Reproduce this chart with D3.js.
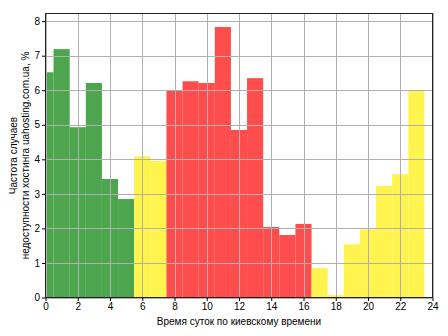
<!DOCTYPE html>
<html><head><meta charset="utf-8">
<script src="https://cdn.jsdelivr.net/npm/d3@7"></script>
<style>body{margin:0;background:#fff}svg{display:block}text{font-family:"Liberation Sans",Arial,sans-serif}</style>
</head><body><svg id="c" width="448" height="336"></svg>
<script>
const hours = d3.range(0, 24);
const values = [6.52,7.19,4.93,6.21,3.43,2.85,4.09,3.95,5.99,6.26,6.21,7.83,4.85,6.35,2.04,1.81,2.13,0.85,0.07,1.54,1.97,3.23,3.57,5.98];
const groups = ["night","night","night","night","night","night","eve","eve","day","day","day","day","day","day","day","day","day","eve","eve","eve","eve","eve","eve","eve"];
const colorMap = {night:"#4da64d", eve:"#fff34d", day:"#ff4d4d"};
const xTicks = d3.range(0, 25, 2);
const yTicks = d3.range(0, 9, 1);
const xLabel = "Время суток по киевскому времени";
const yLabel = ["Частота случаев", "недоступности хостинга uahosting.com.ua, %"];

const svg = d3.select("#c");
const m = {l:45.5, r:432.5, t:13.5, b:297.5};
const x = d3.scaleLinear().domain([0,24]).range([m.l,m.r]);
const y = d3.scaleLinear().domain([0, d3.max(values)*1.05]).range([m.b,m.t]);

const clip = svg.append("clipPath").attr("id","cp").append("rect")
  .attr("x",m.l).attr("y",m.t).attr("width",m.r-m.l).attr("height",m.b-m.t);

svg.append("g").attr("clip-path","url(#cp)").selectAll("rect").data(hours).join("rect")
  .attr("x", d=>x(d-0.5)).attr("width", d=>x(d+0.5)-x(d-0.5))
  .attr("y", d=>y(values[d])).attr("height", d=>y(0)-y(values[d]))
  .attr("fill", d=>colorMap[groups[d]]);

const grid = svg.append("g").attr("stroke","#b0b0b0").attr("stroke-width",1);
grid.selectAll("line.gx").data(xTicks).join("line").attr("class","gx")
  .attr("x1",d=>Math.round(x(d))+0.5).attr("x2",d=>Math.round(x(d))+0.5).attr("y1",m.t).attr("y2",m.b);
grid.selectAll("line.gy").data(yTicks).join("line").attr("class","gy")
  .attr("y1",d=>Math.round(y(d))+0.5).attr("y2",d=>Math.round(y(d))+0.5).attr("x1",m.l).attr("x2",m.r);

const xAxis = svg.append("g").attr("transform",`translate(0,${m.b})`)
  .call(d3.axisBottom(x).tickValues(xTicks).tickSize(3.5).tickPadding(2).tickFormat(d3.format("d")));
const yAxis = svg.append("g").attr("transform",`translate(${m.l},0)`)
  .call(d3.axisLeft(y).tickValues(yTicks).tickSize(3.5).tickPadding(2).tickFormat(d3.format("d")));
[xAxis,yAxis].forEach(a=>{a.select(".domain").remove();a.selectAll("text").attr("font-size",10).attr("fill","#000").style("font-family","'Liberation Sans',Arial,sans-serif");a.selectAll("line").attr("stroke","#000");});

svg.append("rect").attr("x",m.l).attr("y",m.t).attr("width",m.r-m.l).attr("height",m.b-m.t)
  .attr("fill","none").attr("stroke","#222").attr("stroke-width",1);

svg.append("text").attr("x",(m.l+m.r)/2).attr("y",325).attr("text-anchor","middle").attr("font-size",10).text(xLabel);
const yl = svg.append("text").attr("transform",`translate(17,${(m.t+m.b)/2}) rotate(-90)`).attr("text-anchor","middle").attr("font-size",10);
yl.append("tspan").attr("x",0).attr("dy",0).text(yLabel[0]);
yl.append("tspan").attr("x",0).attr("dy",11.5).text(yLabel[1]);
</script></body></html>
